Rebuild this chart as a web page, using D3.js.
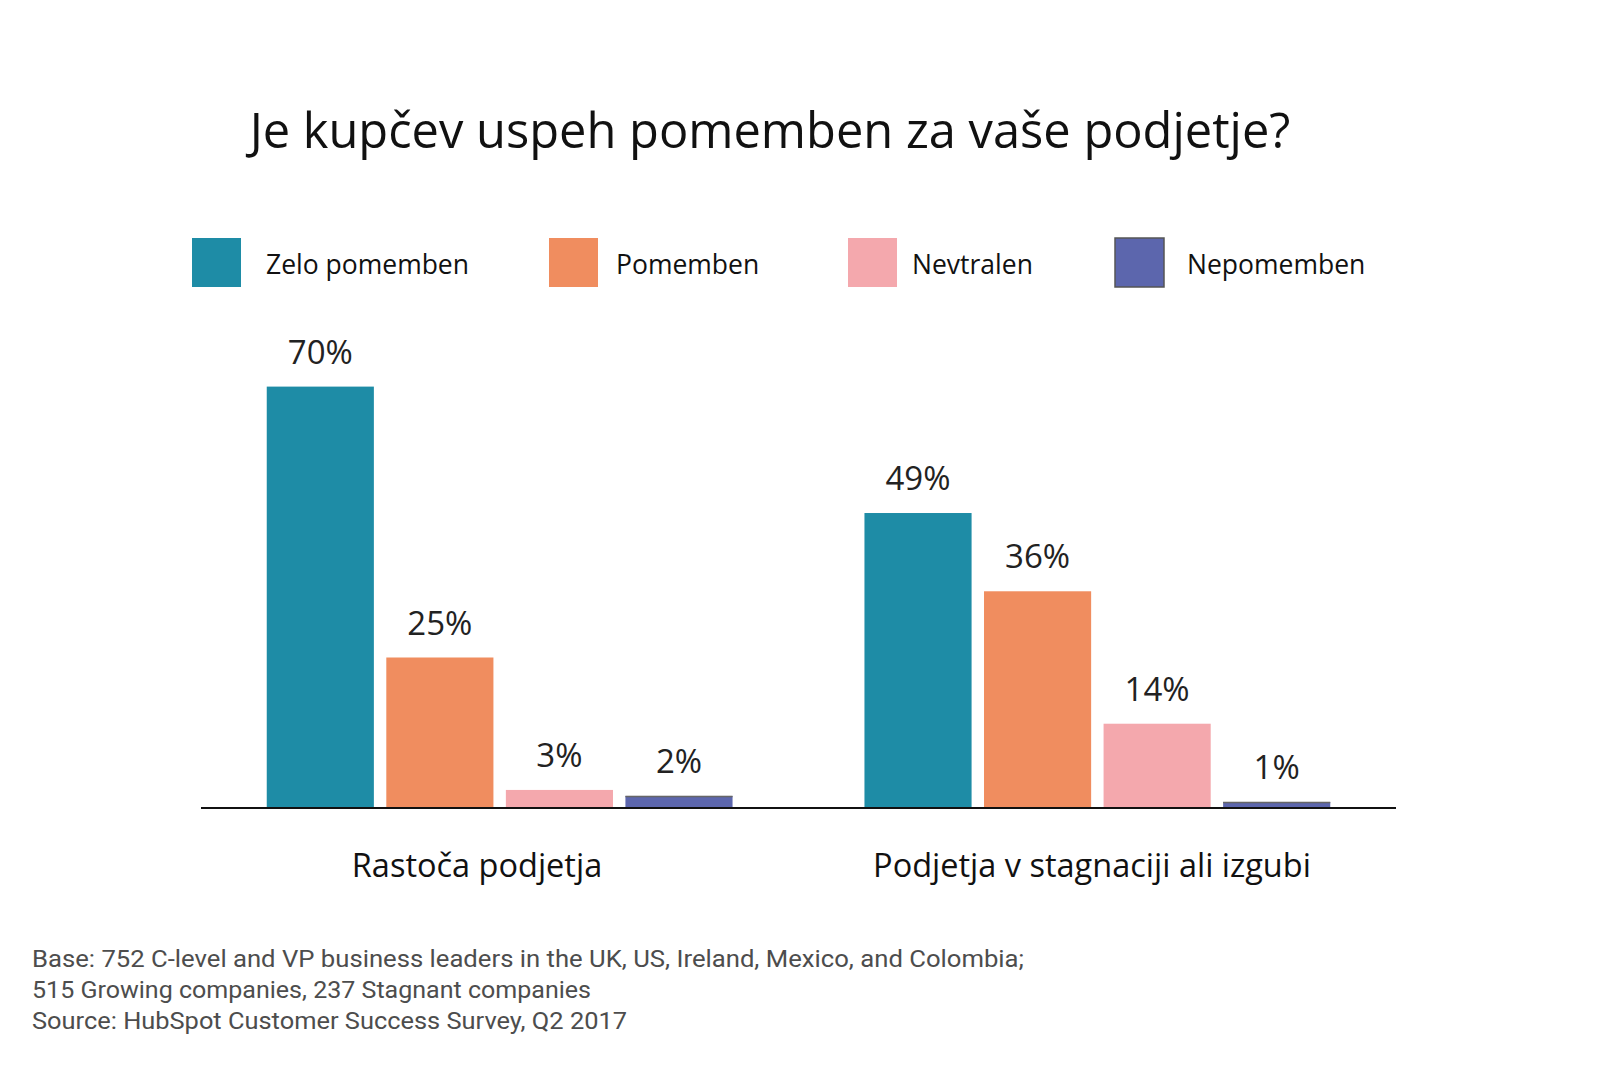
<!DOCTYPE html>
<html>
<head>
<meta charset="utf-8">
<script src="https://cdn.jsdelivr.net/npm/d3@7"></script>
<style>
  html, body { margin: 0; padding: 0; background: #fff; }
  svg { display: block; }
</style>
</head>
<body>
<script>
// ---- data ----
const title = "Je kupčev uspeh pomemben za vaše podjetje?";
const categories = ["Rastoča podjetja", "Podjetja v stagnaciji ali izgubi"];
const seriesNames = ["Zelo pomemben", "Pomemben", "Nevtralen", "Nepomemben"];
const growingValues = [70, 25, 3, 2];
const stagnantValues = [49, 36, 14, 1];
const seriesColors = ["#1e8ca6", "#f08d5f", "#f4a8ad", "#5c66ad"];
const footnoteLines = [
  "Base: 752 C-level and VP business leaders in the UK, US, Ireland, Mexico, and Colombia;",
  "515 Growing companies, 237 Stagnant companies",
  "Source: HubSpot Customer Success Survey, Q2 2017"
];

const W = 1600, H = 1066;
const svg = d3.select("body").append("svg").attr("width", W).attr("height", H);
const FONT = "'Open Sans', 'Noto Sans', sans-serif";

// title
const t = svg.append("text")
  .attr("x", 770).attr("y", 148)
  .attr("text-anchor", "middle")
  .attr("font-family", FONT)
  .attr("font-size", 46)
  .attr("fill", "#111")
  .text(title);
{
  const len = t.node().getComputedTextLength();
  t.attr("font-size", 46 * 1041 / len);
}

// legend layout
const legendX = [192, 549, 848, 1115];
const legendTextX = [266, 616, 912, 1187];
const legend = svg.append("g");
seriesNames.forEach((name, i) => {
  legend.append("rect")
    .attr("x", legendX[i]).attr("y", 238)
    .attr("width", 49).attr("height", 49)
    .attr("fill", seriesColors[i])
    .attr("stroke", i === 3 ? "#555" : "none")
    .attr("stroke-width", i === 3 ? 1.5 : 0);
  legend.append("text")
    .attr("x", legendTextX[i]).attr("y", 274)
    .attr("font-family", FONT)
    .attr("font-size", 26.5)
    .attr("fill", "#111")
    .text(name);
});

// scales
const baseline = 808;
const y = d3.scaleLinear().domain([0, 100]).range([baseline, baseline - 602]);
const x0 = d3.scaleBand().domain(categories).range([201, 1396]).paddingInner(0.2207).paddingOuter(0.11);
const x1 = d3.scaleBand().domain(seriesNames).range([0, x0.bandwidth()]).paddingInner(0.104).paddingOuter(0);

const dataRows = [growingValues, stagnantValues];
const groups = svg.append("g").selectAll("g")
  .data(categories)
  .join("g")
  .attr("transform", d => `translate(${x0(d)},0)`);

groups.each(function(cat, gi) {
  const g = d3.select(this);
  const vals = dataRows[gi].map((v, i) => ({ name: seriesNames[i], v, i }));
  g.selectAll("rect")
    .data(vals)
    .join("rect")
    .attr("x", d => x1(d.name))
    .attr("y", d => y(d.v))
    .attr("width", x1.bandwidth())
    .attr("height", d => baseline - y(d.v))
    .attr("fill", d => seriesColors[d.i]);
  g.selectAll("line.top")
    .data(vals.filter(d => d.i === 3))
    .join("line")
    .attr("class", "top")
    .attr("x1", d => x1(d.name)).attr("x2", d => x1(d.name) + x1.bandwidth())
    .attr("y1", d => y(d.v) + 0.5).attr("y2", d => y(d.v) + 0.5)
    .attr("stroke", "#666").attr("stroke-width", 1.5);
  g.selectAll("text.val")
    .data(vals)
    .join("text")
    .attr("class", "val")
    .attr("x", d => x1(d.name) + x1.bandwidth() / 2)
    .attr("y", d => y(d.v) - 23)
    .attr("text-anchor", "middle")
    .attr("font-family", FONT)
    .attr("font-size", 33)
    .attr("fill", "#222")
    .text(d => d.v + "%");
});

// baseline axis
svg.append("line")
  .attr("x1", 201).attr("x2", 1396)
  .attr("y1", baseline).attr("y2", baseline)
  .attr("stroke", "#111").attr("stroke-width", 2);

// category labels
const catLabelX = [477, 1092];
categories.forEach((c, i) => {
  svg.append("text")
    .attr("x", catLabelX[i]).attr("y", 877)
    .attr("text-anchor", "middle")
    .attr("font-family", FONT)
    .attr("font-size", 32.5)
    .attr("fill", "#111")
    .text(c);
});

// footnote
const footWidths = [992, 559, 595];
footnoteLines.forEach((line, i) => {
  svg.append("text")
    .attr("x", 32).attr("y", 967 + i * 31)
    .attr("font-family", "Roboto, 'Open Sans', sans-serif")
    .attr("font-size", 23)
    .attr("fill", "#4d4d4d")
    .attr("textLength", footWidths[i])
    .attr("lengthAdjust", "spacingAndGlyphs")
    .text(line);
});
</script>
</body>
</html>
